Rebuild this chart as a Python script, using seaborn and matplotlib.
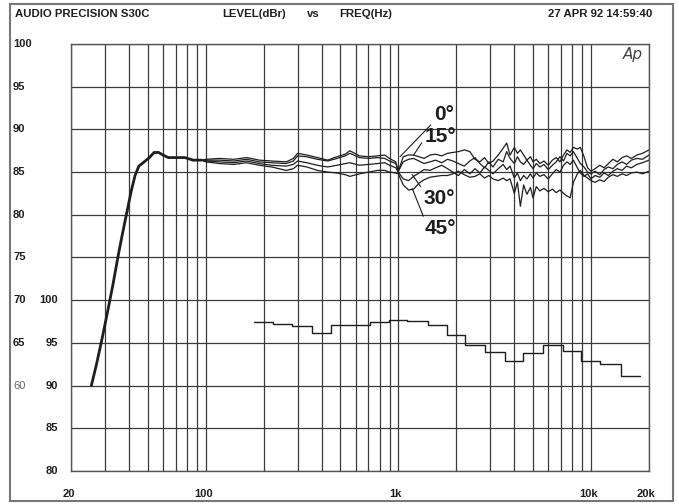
import numpy as np
import pandas as pd
import matplotlib
matplotlib.use("Agg")
import matplotlib.pyplot as plt
import seaborn as sns
from matplotlib.patches import Rectangle

sns.set_theme(style="white")
plt.rcParams['font.family'] = ['Liberation Sans', 'DejaVu Sans']

# ---------------- data ----------------
# shared low-frequency part (all angles identical)
freq_low = [25.5, 27, 29, 31, 33, 35, 37, 39, 41, 43, 45, 48, 51, 54, 57, 60, 64, 70, 78, 86, 95]
level_low = [60.0, 62.3, 65.5, 68.7, 71.8, 75.0, 77.8, 80.3, 82.7, 84.6, 85.7, 86.2, 86.7, 87.3,
             87.3, 87.0, 86.7, 86.7, 86.7, 86.4, 86.4]

freq_mid = [100, 118, 140, 163, 190, 220, 262, 285, 300, 335, 380, 430, 480, 530, 560, 628,
            700, 780, 850, 900, 970, 1000]
freq_hi = [1060, 1130, 1200, 1280, 1360, 1460, 1560, 1680, 1800, 1920, 2050, 2200, 2350, 2500,
           2650, 2800, 2950, 3100, 3300, 3500, 3650, 3800, 4000, 4150, 4300, 4470, 4650, 4850,
           5000, 5200, 5430, 5700, 6000, 6300, 6600, 6900, 7200, 7500, 7800, 8100, 8500, 8800,
           9200, 9600, 10000, 10500, 11100, 11700, 12300, 13000, 13700, 14500, 15300, 16200,
           17300, 18500, 20000]

level_0 = [86.5, 86.6, 86.5, 86.7, 86.4, 86.3, 86.2, 86.6, 87.2, 87.0, 86.7, 86.4, 86.8, 87.1,
           87.5, 86.9, 86.8, 86.9, 87.0, 86.6, 86.2, 85.1,
           86.8, 87.0, 87.0, 86.8, 86.6, 87.0, 87.1, 86.9, 87.2, 87.3, 87.4, 87.6, 87.4, 86.5,
           86.2, 86.7, 86.0, 86.3, 87.0, 87.8, 88.4, 87.0, 87.9, 87.2, 87.6, 87.0, 86.4, 86.8,
           86.2, 86.5, 86.0, 86.3, 85.8, 86.4, 86.7, 86.2, 87.0, 87.6, 87.3, 87.9, 87.7, 87.9,
           86.8, 85.5, 85.1, 85.4, 85.8, 85.5, 86.0, 86.5, 86.2, 86.7, 86.9, 86.6, 87.0, 87.2, 87.6]
level_15 = [86.4, 86.4, 86.3, 86.5, 86.2, 86.1, 86.0, 86.3, 86.9, 86.8, 86.5, 86.3, 86.6, 86.9,
            87.2, 86.7, 86.6, 86.7, 86.6, 86.3, 86.0, 85.1,
            86.2, 86.5, 86.6, 86.3, 86.0, 86.2, 86.4, 86.1, 86.5, 86.3, 86.0, 85.7, 86.3, 86.7,
            86.0, 85.5, 86.2, 85.6, 86.5, 86.2, 87.4, 86.6, 86.0, 86.8, 86.2, 85.9, 86.4, 85.8,
            85.4, 86.0, 85.6, 85.9, 85.3, 85.8, 86.2, 86.8, 86.3, 87.2, 86.9, 87.4, 86.6, 86.0,
            85.6, 85.0, 84.8, 85.1, 84.7, 85.3, 85.6, 85.4, 85.9, 86.2, 85.9, 86.4, 86.6, 86.5, 87.0]
level_30 = [86.3, 86.2, 86.1, 86.3, 86.0, 85.8, 85.7, 85.9, 86.3, 86.1, 85.8, 85.6, 85.8, 86.0,
            86.1, 85.8, 85.9, 86.0, 86.1, 85.8, 85.5, 85.0,
            84.2, 84.0, 84.5, 84.9, 85.3, 85.2, 85.5, 85.8, 85.4, 85.0, 84.6, 85.3, 84.8, 85.4,
            84.9, 85.6, 85.2, 84.8, 85.4, 85.9, 85.3, 85.7, 84.3, 84.9, 84.0, 84.6, 84.2, 84.8,
            84.3, 84.9, 84.5, 84.7, 84.2, 84.8, 85.3, 85.0, 85.8, 86.2, 85.9, 86.4, 85.5, 84.9,
            84.5, 84.8, 84.2, 84.6, 84.4, 84.9, 84.6, 85.1, 85.4, 85.2, 85.7, 85.5, 85.9, 86.1, 86.4]
level_45 = [86.2, 86.0, 85.9, 86.1, 85.8, 85.6, 85.2, 85.4, 85.8, 85.6, 85.2, 85.0, 84.9, 84.7,
            84.5, 84.8, 85.0, 85.2, 85.2, 85.0, 84.9, 84.8,
            83.5, 82.9, 83.0, 83.7, 84.1, 84.4, 84.5, 84.6, 84.6, 84.8, 85.1, 84.7, 84.4, 84.5,
            84.8, 84.3, 84.6, 84.2, 84.0, 84.3, 84.0, 84.2, 82.5, 83.8, 81.0, 83.5, 82.4, 83.2,
            82.0, 83.3, 82.8, 83.1, 82.7, 83.0, 82.6, 82.9, 82.5, 82.2, 82.0, 83.8, 84.8, 85.2,
            84.6, 84.3, 84.0, 83.8, 84.1, 83.9, 84.4, 84.7, 84.5, 84.8, 84.6, 84.9, 85.0, 84.8, 85.1]

# 1/3-octave stepped curve (secondary scale, labels 80..100)
band_centers = [200, 250, 315, 400, 500, 630, 800, 1000, 1250, 1600, 2000, 2500, 3150, 4000,
                5000, 6300, 8000, 10000, 12500, 16000]
band_levels = [97.4, 97.2, 97.0, 96.2, 97.1, 97.1, 97.4, 97.7, 97.6, 97.1, 95.9, 94.7, 93.9,
               92.9, 93.8, 94.8, 94.0, 92.9, 92.5, 91.1]
secondary_offset = 30  # secondary 100 sits at primary 70

angle_labels = ["0°", "15°", "30°", "45°"]
x_ticks = [20, 100, 1000, 10000, 20000]
x_ticklabels = ["20", "100", "1k", "10k", "20k"]
y_primary = [100, 95, 90, 85, 80, 75, 70, 65, 60]
y_secondary = [100, 95, 90, 85, 80]

# ---------------- figure ----------------
W, H = 679, 504
fig = plt.figure(figsize=(W / 100, H / 100), dpi=100)
L, R, T, B = 71, 649, 44, 471
ax = fig.add_axes([L / W, 1 - B / H, (R - L) / W, (B - T) / H])
ax.set_xscale('log')
ax.set_xlim(20, 20000)
ax.set_ylim(50, 100)

ink = '#1e1e1e'
gridc = '#3a3a3a'

# grid
grid_x = [f * 10 ** d for d in range(1, 5) for f in range(1, 10) if 20 <= f * 10 ** d <= 20000]
ax.set_xticks(grid_x, minor=False)
ax.set_xticklabels([])
ax.xaxis.set_minor_locator(matplotlib.ticker.NullLocator())
ax.set_yticks(np.arange(50, 101, 5))
ax.set_yticklabels([])
ax.tick_params(length=0)
ax.grid(True, color=gridc, lw=0.9)
for s in ax.spines.values():
    s.set_color('#555555')
    s.set_linewidth(1.0)

# curves
sns.lineplot(x=freq_low, y=level_low, ax=ax, color=ink, lw=2.0, estimator=None, sort=False)
fm = freq_low[-1:] + freq_mid + freq_hi
for lv in [level_0, level_15, level_30, level_45]:
    sns.lineplot(x=fm, y=level_low[-1:] + lv, ax=ax, color=ink, lw=0.9,
                 estimator=None, sort=False)

# stepped curve
bc = np.array(band_centers, dtype=float)
edges = list(bc / 2 ** (1 / 6)) + [bc[-1] * 2 ** (1 / 6)]
steps_y = [v - secondary_offset for v in band_levels] + [band_levels[-1] - secondary_offset]
sns.lineplot(x=edges, y=steps_y, ax=ax, color=ink, lw=1.0, drawstyle='steps-post',
             estimator=None, sort=False)

# angle labels with leaders (text anchor in figure pixels from top-left)
lab_fs = 15
label_specs = [
    (angle_labels[0], (1020, 86.8), (434, 114), (0.0, 0.1)),
    (angle_labels[1], (1200, 87.0), (425, 137), (0.0, 0.45)),
    (angle_labels[2], (1180, 84.7), (424, 198), (0.0, 0.85)),
    (angle_labels[3], (1180, 83.1), (425, 229), (0.0, 0.95)),
]
for lab, xy, (px, py), rp in label_specs:
    ax.annotate(lab, xy=xy, xycoords='data', xytext=(px, H - py), textcoords='figure pixels',
                fontsize=lab_fs, fontweight='bold', color=ink, va='center', ha='left',
                arrowprops=dict(arrowstyle='-', color=ink, lw=0.8, shrinkA=0, shrinkB=0,
                                relpos=rp))

# Ap logo
ax.text(0.99, 0.992, "Ap", transform=ax.transAxes, ha='right', va='top', fontsize=11,
        style='italic', color='#444444', family='DejaVu Sans', fontweight='light')

# x tick labels
xt = matplotlib.transforms.blended_transform_factory(ax.transData, fig.transFigure)
for xv, lab in zip(x_ticks, x_ticklabels):
    ax.text(xv * 0.97, 1 - 494 / H, lab, transform=xt, ha='center', va='center', fontsize=8,
            fontweight='bold', color=ink)

# y labels
def ypix(v):
    return T + (100 - v) / 50 * (B - T)

for v in y_primary:
    fig.text(13 / W, 1 - ypix(v) / H, str(v), ha='left', va='center', fontsize=8,
             fontweight='bold' if v != 60 else 'normal',
             color=ink if v != 60 else '#666666')
for v in y_secondary:
    fig.text(58 / W, 1 - ypix(v - secondary_offset) / H, str(v), ha='right', va='center',
             fontsize=8, fontweight='bold', color=ink)

# header
hy = 1 - 14 / H
hfs = 8.2
fig.text(15 / W, hy, "AUDIO PRECISION S30C", ha='left', va='center', fontsize=hfs,
         fontweight='bold', color=ink)
fig.text(222 / W, hy, "LEVEL(dBr)", ha='left', va='center', fontsize=hfs, fontweight='bold', color=ink)
fig.text(307 / W, hy, "vs", ha='left', va='center', fontsize=hfs, fontweight='bold', color=ink)
fig.text(339 / W, hy, "FREQ(Hz)", ha='left', va='center', fontsize=hfs, fontweight='bold', color=ink)
fig.text(652 / W, hy, "27 APR 92 14:59:40", ha='right', va='center', fontsize=hfs,
         fontweight='bold', color=ink)

# outer frame
fig.patches.append(Rectangle((10 / W, 1 - 501 / H), 663 / W, 497 / H, transform=fig.transFigure,
                             fill=False, ec='#777777', lw=1.5))

fig.savefig("out.png", dpi=100)
